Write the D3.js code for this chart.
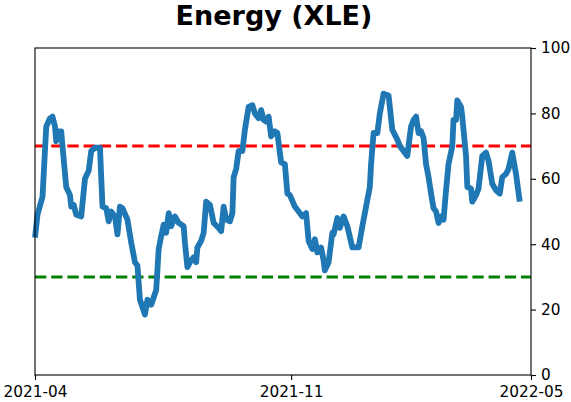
<!DOCTYPE html>
<html>
<head>
<meta charset="utf-8">
<script src="https://cdn.jsdelivr.net/npm/d3@7"></script>
<style>
  html, body { margin: 0; padding: 0; background: #fff; }
  svg { display: block; font-family: "DejaVu Sans", sans-serif; }
</style>
</head>
<body>
<svg id="chart" width="571" height="402"></svg>
<script>
// ---- data ----
const chartTitle = "Energy (XLE)";
const startDate = "2021-04-10";
const endDate = "2022-05-12";
const dayOffsets = [0, 2, 6, 9, 12, 14, 16, 17, 18, 21, 22, 25, 28, 29, 31, 33, 37, 40, 43, 45, 48, 52, 54, 57, 59, 61, 64, 66, 68, 70, 74, 77, 80, 82, 84, 88, 90, 93, 97, 99, 101, 103, 105, 107, 109, 112, 115, 119, 120, 122, 124, 127, 129, 130, 133, 135, 137, 140, 143, 147, 149, 151, 153, 156, 158, 159, 161, 163, 166, 168, 171, 174, 176, 179, 181, 183, 185, 187, 189, 192, 194, 197, 200, 202, 204, 208, 211, 214, 217, 219, 222, 224, 226, 229, 231, 232, 235, 238, 239, 242, 244, 247, 250, 254, 259, 262, 265, 268, 269, 271, 274, 276, 279, 283, 286, 290, 292, 294, 298, 301, 303, 305, 307, 309, 311, 313, 315, 317, 319, 321, 323, 325, 327, 329, 331, 334, 335, 337, 338, 341, 342, 345, 346, 349, 350, 353, 355, 358, 361, 363, 366, 369, 372, 374, 377, 379, 382, 385, 388];
const values = [42, 49, 54.5, 76, 78.5, 79, 76, 71.5, 74.5, 74.5, 70, 57.5, 55, 51.5, 52, 49, 48.5, 60, 62.5, 68.5, 69.5, 69.5, 51.5, 51, 47, 50, 48.5, 43, 51.5, 51, 47.5, 40.5, 34.5, 33.5, 23, 18.5, 23, 21.5, 26, 38.5, 42.5, 46, 43.5, 49.5, 45.5, 48.5, 46.5, 45.5, 40.5, 33, 34.5, 36, 34.5, 39, 41, 43.5, 53, 52, 46.5, 45, 44, 51.5, 47.5, 47, 49.5, 60.5, 63, 68.5, 68.5, 75, 82, 82.5, 80, 78.5, 81, 78, 77.5, 79, 73, 74.5, 74, 65, 64.5, 55.5, 55, 51.5, 50, 48.5, 49.5, 41, 38.5, 41.5, 37.5, 39, 35, 32, 34.5, 43.5, 43, 48, 45, 48.5, 45.5, 39, 39, 45.5, 51.5, 57.5, 64.5, 74, 74, 80, 86, 85.5, 75, 72, 70, 69, 67, 76, 78, 79, 74, 74.5, 72.5, 64.5, 60.5, 55.5, 51, 50, 46.5, 48.5, 47.5, 56.5, 64.5, 70, 78, 78, 84, 82, 79, 67, 57.5, 57, 53, 55, 57, 67, 68, 65.5, 58.5, 56.5, 55.5, 60.5, 61.5, 63, 68, 61.5, 53];
const xTickDates = ["2021-04-10", "2021-11-01", "2022-05-12"];
const xTickLabels = ["2021-04", "2021-11", "2022-05"];
const yTicks = [0, 20, 40, 60, 80, 100];
const upperLevel = 70;
const lowerLevel = 30;

// ---- layout ----
const svg = d3.select("#chart");
const margin = { left: 35, right: 40, top: 48, bottom: 27 };
const W = 571, H = 402;
const x0 = margin.left, x1 = W - margin.right;
const y0 = H - margin.bottom, y1 = margin.top;

const parse = d3.timeParse("%Y-%m-%d");
const start = parse(startDate);
const dates = dayOffsets.map(d => d3.timeDay.offset(start, d));
const data = dates.map((d, i) => ({ date: d, value: values[i] }));

const x = d3.scaleTime().domain([start, parse(endDate)]).range([x0, x1]);
const y = d3.scaleLinear().domain([0, 100]).range([y0, y1]);

// reference lines
svg.append("line")
  .attr("x1", x0).attr("x2", x1)
  .attr("y1", y(upperLevel)).attr("y2", y(upperLevel))
  .attr("stroke", "#ff0000").attr("stroke-width", 3)
  .attr("stroke-dasharray", "11.3,4.9");
svg.append("line")
  .attr("x1", x0).attr("x2", x1)
  .attr("y1", y(lowerLevel)).attr("y2", y(lowerLevel))
  .attr("stroke", "#008000").attr("stroke-width", 3)
  .attr("stroke-dasharray", "11.3,4.9");

// series line
const line = d3.line().x(d => x(d.date)).y(d => y(d.value));
svg.append("path")
  .datum(data)
  .attr("d", line)
  .attr("fill", "none")
  .attr("stroke", "#1f77b4")
  .attr("stroke-width", 5.8)
  .attr("stroke-linejoin", "round")
  .attr("stroke-linecap", "butt");

// frame
svg.append("rect")
  .attr("x", x0).attr("y", y1)
  .attr("width", x1 - x0).attr("height", y0 - y1)
  .attr("fill", "none").attr("stroke", "#000").attr("stroke-width", 1.1);

// x axis
const xAxis = d3.axisBottom(x)
  .tickValues(xTickDates.map(parse))
  .tickFormat((d, i) => xTickLabels[i])
  .tickSize(5).tickPadding(6);
const gx = svg.append("g").attr("transform", `translate(0,${y0})`).call(xAxis);
gx.select(".domain").remove();
gx.selectAll("text").attr("font-size", 15.3).attr("font-family", "DejaVu Sans").attr("fill", "#000");
gx.selectAll("line").attr("stroke", "#000").attr("stroke-width", 1.1);

// y axis on the right
const yAxis = d3.axisRight(y).tickValues(yTicks).tickSize(5).tickPadding(5);
const gy = svg.append("g").attr("transform", `translate(${x1},0)`).call(yAxis);
gy.select(".domain").remove();
gy.selectAll("text").attr("font-size", 15.3).attr("font-family", "DejaVu Sans").attr("fill", "#000");
gy.selectAll("line").attr("stroke", "#000").attr("stroke-width", 1.1);

// title
svg.append("text")
  .attr("x", 274).attr("y", 25)
  .attr("text-anchor", "middle")
  .attr("font-size", 27)
  .attr("font-weight", "bold")
  .attr("font-family", "DejaVu Sans")
  .text(chartTitle);
</script>
</body>
</html>
